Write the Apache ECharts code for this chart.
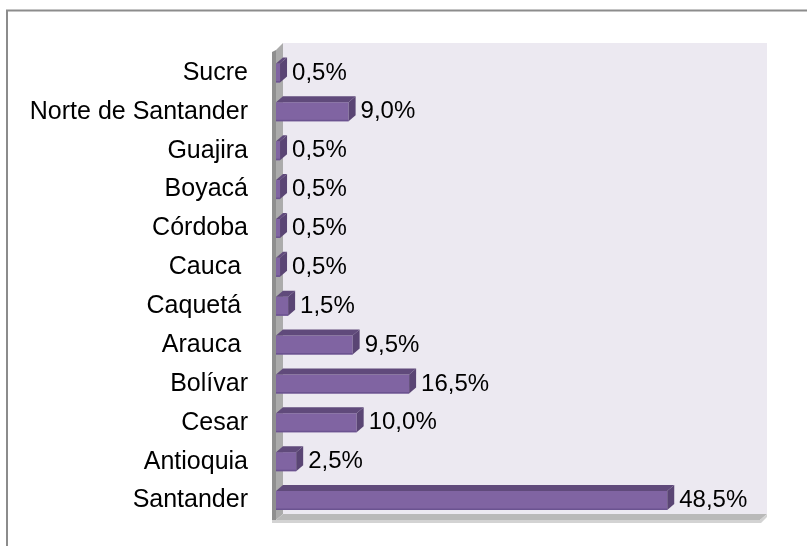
<!DOCTYPE html>
<html>
<head>
<meta charset="utf-8">
<script src="https://cdn.jsdelivr.net/npm/echarts@6/dist/echarts.min.js"></script>
<style>
  html, body { margin: 0; padding: 0; background: #fff; }
  #chart { width: 807px; height: 546px; }
</style>
</head>
<body>
<div id="chart"></div>
<script>
// datos (de arriba hacia abajo)
var departamentos = ['Sucre', 'Norte de Santander', 'Guajira', 'Boyacá', 'Córdoba', 'Cauca ', 'Caquetá ', 'Arauca ', 'Bolívar', 'Cesar', 'Antioquia', 'Santander'];
var porcentajes = [0.5, 9.0, 0.5, 0.5, 0.5, 0.5, 1.5, 9.5, 16.5, 10.0, 2.5, 48.5];

var FONT = '"Liberation Sans", Arial, sans-serif';
var DX = 7, DY = 6; // profundidad del efecto 3D

function renderBar(params, api) {
	var idx = api.value(1);
	var val = api.value(0);
	var start = api.coord([0, idx]);
	var end = api.coord([val, idx]);
	var h = api.size([0, 1])[1] * 0.49;
	var x0 = start[0], x1 = end[0], yc = end[1];
	var y0 = yc - h / 2, y1 = yc + h / 2;
	var txt = val.toFixed(1).replace('.', ',') + '%';
	return {
		type: 'group',
		children: [
			{ type: 'rect', shape: { x: x0, y: y0, width: x1 - x0, height: h }, style: { fill: '#8064A2' } },
			{ type: 'polygon', shape: { points: [[x0, y0], [x0 + DX, y0 - DY], [x1 + DX, y0 - DY], [x1, y0]] }, style: { fill: '#604A7B' } },
			{ type: 'polygon', shape: { points: [[x1, y0], [x1 + DX, y0 - DY], [x1 + DX, y1 - DY], [x1, y1]] }, style: { fill: '#5A4574' } },
			{ type: 'rect', shape: { x: x0, y: y1 - 1.5, width: x1 - x0, height: 1.5 }, style: { fill: '#6B5390' } },
			{ type: 'text', style: { x: x1 + DX + 5, y: yc, text: txt, fill: '#000', font: '24px ' + FONT, verticalAlign: 'middle', align: 'left' } }
		]
	};
}

var datos = porcentajes.map(function(v, i){
	return [v, i];
});

var mychart = echarts.init(document.getElementById('chart'));
var option = {
	animation: false,
	grid: { left: 276, right: 47, top: 53.5, bottom: 26 },
	xAxis: {
		type: 'value',
		min: 0,
		max: 60,
		show: false
	},
	yAxis: {
		type: 'category',
		data: departamentos,
		inverse: true,
		axisLine: { show: false },
		axisTick: { show: false },
		splitLine: { show: false },
		axisLabel: {
			margin: 28,
			color: '#000',
			fontSize: 25,
			fontFamily: FONT
		}
	},
	graphic: [
		// marco exterior
		{ type: 'rect', z: 0, shape: { x: 7, y: 10.5, width: 900, height: 600 }, style: { fill: 'none', stroke: '#8c8c8c', lineWidth: 2 } },
		// pared de fondo
		{ type: 'rect', z: 0, shape: { x: 283, y: 43, width: 484, height: 471 }, style: { fill: '#ECE9F1' } },
		// pared izquierda
		{ type: 'polygon', z: 1, shape: { points: [[276, 50], [283, 43], [283, 514], [276, 520]] }, style: { fill: '#ABABAB' } },
		{ type: 'polygon', z: 1, shape: { points: [[272, 52], [276, 50], [276, 523], [272, 523]] }, style: { fill: '#8F8F8F' } },
		// piso
		{ type: 'polygon', z: 1, shape: { points: [[276, 520], [283, 514], [767, 514], [760, 520]] }, style: { fill: '#B9B9B9' } },
		{ type: 'polygon', z: 1, shape: { points: [[272, 520], [760, 520], [767, 514], [767, 517], [761, 523], [272, 523]] }, style: { fill: '#D3D3D3' } }
	],
	series: [
		{
			type: 'custom',
			z: 5,
			renderItem: renderBar,
			encode: { x: 0, y: 1 },
			data: datos
		}
	]
};
mychart.setOption(option);
</script>
</body>
</html>
